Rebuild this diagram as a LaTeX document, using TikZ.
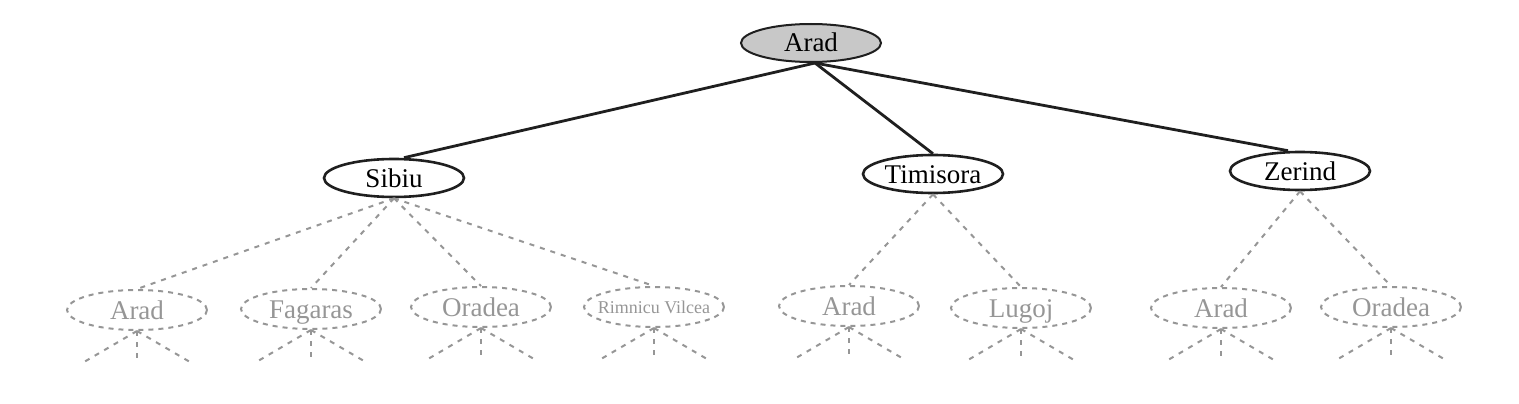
\documentclass[tikz,border=0pt]{standalone}
\usepackage{fontspec}
\setmainfont{Liberation Serif}
\usetikzlibrary{shapes.geometric}
\definecolor{leafgray}{RGB}{150,150,150}
\definecolor{rootfill}{RGB}{200,200,200}
\tikzset{
  treenode/.style={ellipse, draw=black!88, line width=2.6pt, minimum width=140pt, minimum height=38pt, inner sep=0pt, text height=18pt, text depth=0pt, font=\fontsize{27}{30}\selectfont},
  rootnode/.style={treenode, fill=rootfill, line width=2pt},
  leafnode/.style={ellipse, draw=leafgray, dash pattern=on 5pt off 5pt, line width=2pt, minimum width=140pt, minimum height=40pt, inner sep=0pt, text height=18pt, text depth=0pt, text=leafgray, font=\fontsize{27}{30}\selectfont},
  solidedge/.style={draw=black!88, line width=2.8pt},
  dashedge/.style={draw=leafgray, dash pattern=on 5pt off 6pt, line width=2pt},
}
\begin{document}
\begin{tikzpicture}[x=1pt,y=-1pt]
\useasboundingbox (0,0) rectangle (1519,404);
\node[rootnode] (root) at (811,43) {Arad};
\node[treenode] (sib) at (394,178) {Sibiu};
\node[treenode] (tim) at (933,174) {Timisora};
\node[treenode] (zer) at (1300,171) {Zerind};

\node[leafnode] (l1) at (137,310) {Arad};
\node[leafnode] (l2) at (311,309) {Fagaras};
\node[leafnode] (l3) at (481,307) {Oradea};
\node[leafnode, text height=12pt, font=\fontsize{18}{22}\selectfont] (l4) at (654,307) {\makebox[80pt]{Rimnicu Vilcea}};
\node[leafnode] (l5) at (849,306) {Arad};
\node[leafnode] (l6) at (1021,308) {Lugoj};
\node[leafnode] (l7) at (1221,308) {Arad};
\node[leafnode] (l8) at (1391,307) {Oradea};

\draw[solidedge] ([xshift=4pt]root.south) -- ([xshift=10pt]sib.north);
\draw[solidedge] ([xshift=4pt]root.south) -- (tim.north);
\draw[solidedge] ([xshift=4pt]root.south) -- ([xshift=-12pt]zer.north);

\draw[dashedge] (sib.south) -- (l1.north);
\draw[dashedge] (sib.south) -- (l2.north);
\draw[dashedge] (sib.south) -- (l3.north);
\draw[dashedge] (sib.south) -- (l4.north);
\draw[dashedge] (tim.south) -- (l5.north);
\draw[dashedge] (tim.south) -- (l6.north);
\draw[dashedge] (zer.south) -- (l7.north);
\draw[dashedge] (zer.south) -- (l8.north);

\foreach \n in {l1,l2,l3,l4,l5,l6,l7,l8}{
  \coordinate (\n a) at ([xshift=-53pt,yshift=-31pt]\n.south);
  \coordinate (\n b) at ([yshift=-31pt]\n.south);
  \coordinate (\n c) at ([xshift=53pt,yshift=-31pt]\n.south);
  \draw[dashedge] (\n.south) -- (\n a);
  \draw[dashedge] (\n.south) -- (\n b);
  \draw[dashedge] (\n.south) -- (\n c);
}
\end{tikzpicture}
\end{document}
